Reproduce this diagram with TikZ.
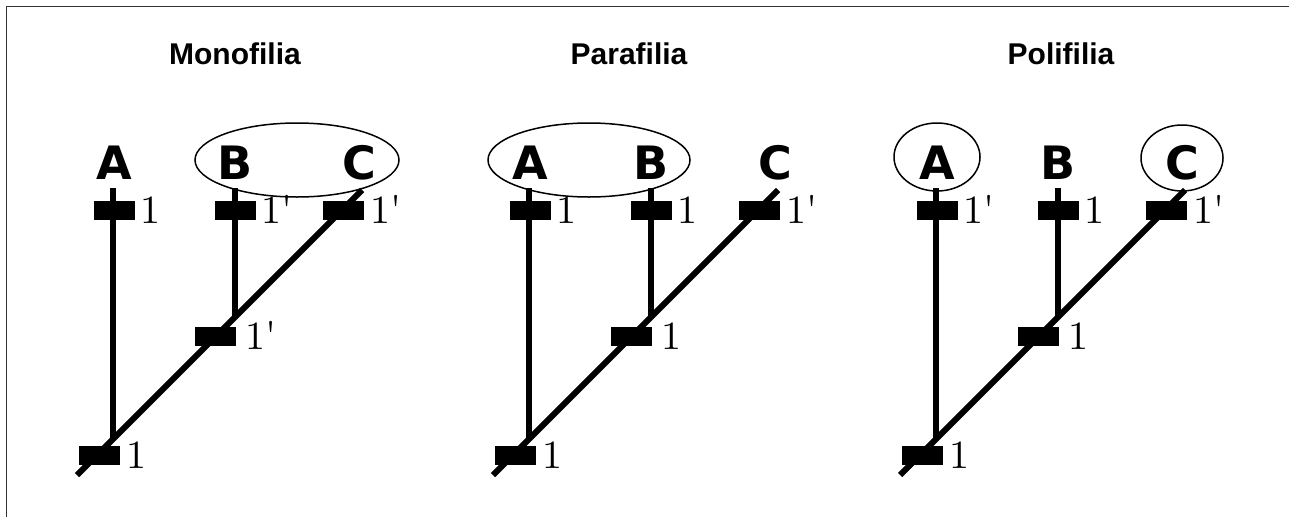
\documentclass[tikz,border=0pt]{standalone}
\usepackage{fontspec}
\usepackage{tikz}
\usetikzlibrary{positioning}

\newfontfamily\titlefont{Liberation Sans}[Ligatures=NoCommon]
\newfontfamily\taxonfont{DejaVu Sans}
\newfontfamily\numfont{lmroman10-regular.otf}[Ligatures=TeXOff]

\begin{document}
\begin{tikzpicture}[x=1pt,y=-1pt]
      \tikzset{rama/.style={line width=6pt},
        apo/.style={fill=black, inner sep=0pt,
          minimum width=41pt, minimum height=19pt},
        taxon/.style={font=\taxonfont\bfseries\fontsize{46}{46}\selectfont,
          inner sep=0pt, anchor=base},
        estado/.style={font=\numfont\fontsize{40}{40}\selectfont,
          inner sep=0pt, text height=26pt, text depth=0pt},
        titulo/.style={font=\titlefont\bfseries\fontsize{30}{30}\selectfont,
          inner sep=0pt, anchor=base},
        grupo/.style={line width=1.5pt}
      }
      \useasboundingbox (0,0) rectangle (1289,517);
      \draw [line width=1.5pt, black!80] (6.5,517) -- (6.5,6.5) -- (1289,6.5);

      % one cladogram per panel: shift, name, title x, title, character states
      \foreach \dx/\p/\tx/\nombre/\la/\lb/\lc/\lm/\lr in
        {0/mono/235/Monofilia/1/1'/1'/1'/1,
         416/para/629/Parafilia/1/1/1'/1/1,
         823/poli/1061/Polifilia/1'/1/1'/1/1}
      {
      \node [titulo] (\p-titulo) at (\tx,64) {\nombre};
      \begin{scope}[xshift=\dx]
      \node [taxon] (\p-A) at (114,179) {A};
      \node [taxon] (\p-B) at (235,179) {B};
      \node [taxon] (\p-C) at (359,179) {C};

      \coordinate (\p-raiz) at (77,475);
      \coordinate (\p-cima) at (362,190);
      \coordinate (\p-ta) at (113,188);
      \coordinate (\p-ja) at (113,439);
      \coordinate (\p-tb) at (235,188);
      \coordinate (\p-jb) at (235,317);
      \draw [rama] (\p-raiz)--(\p-cima);
      \draw [rama] (\p-ta)--(\p-ja);
      \draw [rama] (\p-tb)--(\p-jb);

      \node [apo] (\p-a) at (114,210) {};
      \node [apo] (\p-b) at (235,210) {};
      \node [apo] (\p-c) at (343,210) {};
      \node [apo] (\p-m) at (215,336) {};
      \node [apo] (\p-r) at (99,455) {};

      \node [estado, right=6pt of \p-a] (\p-na) {\la};
      \node [estado, right=6pt of \p-b] (\p-nb) {\lb};
      \node [estado, right=7pt of \p-c] (\p-nc) {\lc};
      \node [estado, right=10pt of \p-m] (\p-nm) {\lm};
      \node [estado, right=7pt of \p-r] (\p-nr) {\lr};
      \end{scope}
      }

      % groups
      \draw [grupo] (297,160) ellipse (102 and 37);
      \draw [grupo] (589,160) ellipse (101 and 37);
      \draw [grupo] (937,157) ellipse (43 and 34);
      \draw [grupo] (1182,158) ellipse (41 and 33);
\end{tikzpicture}
\end{document}
